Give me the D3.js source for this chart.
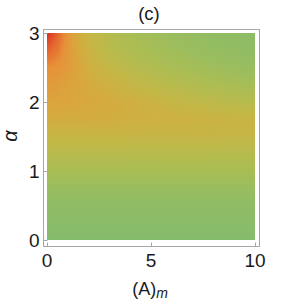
<!DOCTYPE html>
<html><head><meta charset="utf-8">
<script src="https://cdn.jsdelivr.net/npm/d3@7"></script>
<style>body{margin:0;background:#fff}svg{display:block;font-family:"Liberation Sans",Arial,sans-serif}</style>
</head><body>
<svg id="c" width="289" height="301"></svg>
<script>
// grid nodes
const A_vals = [0, 0.5, 1, 1.5, 2, 3, 4, 5, 6, 8, 10];
const alpha_vals = [0, 0.5, 1, 1.5, 1.75, 2, 2.25, 2.5, 2.75, 3];
// values (0 = green, 1 = red), one row per alpha
const row_a0    = [0,0,0,0,0,0,0,0,0,0,0];
const row_a0_5  = [0.12,0.12,0.12,0.12,0.12,0.12,0.12,0.12,0.12,0.12,0.12];
const row_a1    = [0.33,0.33,0.33,0.33,0.33,0.33,0.33,0.33,0.33,0.33,0.33];
const row_a1_5  = [0.55,0.55,0.55,0.55,0.55,0.55,0.55,0.54,0.54,0.54,0.53];
const row_a1_75 = [0.64,0.64,0.64,0.64,0.64,0.63,0.62,0.61,0.60,0.58,0.56];
const row_a2    = [0.70,0.70,0.69,0.68,0.67,0.65,0.62,0.58,0.54,0.48,0.42];
const row_a2_25 = [0.75,0.74,0.71,0.69,0.66,0.60,0.54,0.49,0.44,0.36,0.30];
const row_a2_5  = [0.81,0.79,0.75,0.69,0.62,0.52,0.45,0.39,0.34,0.26,0.20];
const row_a2_75 = [0.91,0.86,0.77,0.67,0.58,0.46,0.38,0.32,0.27,0.19,0.13];
const row_a3    = [1.00,0.91,0.77,0.65,0.55,0.42,0.33,0.27,0.22,0.14,0.08];
const grid = [row_a0,row_a0_5,row_a1,row_a1_5,row_a1_75,row_a2,row_a2_25,row_a2_5,row_a2_75,row_a3];
const xTicks = [0,5,10];
const yTicks = [0,1,2,3];
const colorStops = [0,0.2,0.35,0.5,0.6,0.7,0.8,0.9,1.0];
const colorVals = ["#85bb6c","#97bd60","#abbd53","#c0b949","#cdb142","#dba43c","#e6923a","#e4672f","#dc2a22"];

const svg = d3.select("#c");
const x = d3.scaleLinear().domain([0,10]).range([47,255]);
const y = d3.scaleLinear().domain([0,3]).range([240,33]);
const color = d3.scaleLinear().domain(colorStops).range(colorVals).interpolate(d3.interpolateRgb).clamp(true);
const colIdx = d3.scaleLinear().domain(A_vals).range(d3.range(A_vals.length)).clamp(true);
const rowIdx = d3.scaleLinear().domain(alpha_vals).range(d3.range(alpha_vals.length)).clamp(true);

// heat image
const x0 = Math.round(x(0)), x1 = Math.round(x(10)), yT = Math.round(y(3)), yB = Math.round(y(0));
const W = x1 - x0, H = yB - yT;
const cv = document.createElement("canvas"); cv.width = W; cv.height = H;
const ctx = cv.getContext("2d");
const img = ctx.createImageData(W, H);
for (let j = 0; j < H; j++) {
  const av = y.invert(yT + j + 0.5);
  const r = rowIdx(av), r0 = Math.min(Math.floor(r), alpha_vals.length - 2), fr = r - r0;
  for (let i = 0; i < W; i++) {
    const A = x.invert(x0 + i + 0.5);
    const c = colIdx(A), c0 = Math.min(Math.floor(c), A_vals.length - 2), fc = c - c0;
    const v = (1-fr)*((1-fc)*grid[r0][c0] + fc*grid[r0][c0+1]) + fr*((1-fc)*grid[r0+1][c0] + fc*grid[r0+1][c0+1]);
    const col = d3.rgb(color(v));
    const k = (j*W + i)*4;
    img.data[k] = col.r; img.data[k+1] = col.g; img.data[k+2] = col.b; img.data[k+3] = 255;
  }
}
ctx.putImageData(img, 0, 0);
svg.append("image").attr("x", x0).attr("y", yT).attr("width", W).attr("height", H)
  .attr("href", cv.toDataURL());

// frame
const fl = 43, fr_ = 259, ft = 29, fb = 246;
const frameColor = "#a6a6a6";
svg.append("rect").attr("x", fl+0.5).attr("y", ft+0.5).attr("width", fr_-fl).attr("height", fb-ft)
  .attr("fill","none").attr("stroke", frameColor).attr("stroke-width",1);

// x ticks
const gx = svg.append("g");
xTicks.forEach(t => {
  const px = Math.round(x(t)) + 0.5;
  gx.append("line").attr("x1",px).attr("x2",px).attr("y1",fb+0.5).attr("y2",fb-3.5).attr("stroke",frameColor);
  gx.append("text").attr("x", x(t)).attr("y", 267).attr("text-anchor","middle")
    .attr("font-size",19).attr("fill","#1a1a1a").text(t);
});
// y ticks
const gy = svg.append("g");
yTicks.forEach(t => {
  const py = Math.round(y(t)) + 0.5;
  gy.append("line").attr("x1",fl+0.5).attr("x2",fl+4.5).attr("y1",py).attr("y2",py).attr("stroke",frameColor);
  gy.append("text").attr("x", 39.5).attr("y", y(t)+0.5).attr("dy","0.36em").attr("text-anchor","end")
    .attr("font-size",19).attr("fill","#1a1a1a").text(t);
});

// title
svg.append("text").attr("x",149).attr("y",20).attr("text-anchor","middle").attr("font-size",18.5).attr("fill","#1a1a1a").text("(c)");
// x label
const xl = svg.append("text").attr("x",150).attr("y",295).attr("text-anchor","middle").attr("font-size",18).attr("fill","#1a1a1a");
xl.append("tspan").text("(A)");
xl.append("tspan").attr("font-style","italic").attr("font-size",14).attr("dy",3).text("m");
// y label
svg.append("text").attr("transform","translate(17,136) rotate(-90)").attr("text-anchor","middle")
  .attr("font-size",20).attr("font-style","italic").attr("fill","#1a1a1a").text("α");
</script>
</body></html>
